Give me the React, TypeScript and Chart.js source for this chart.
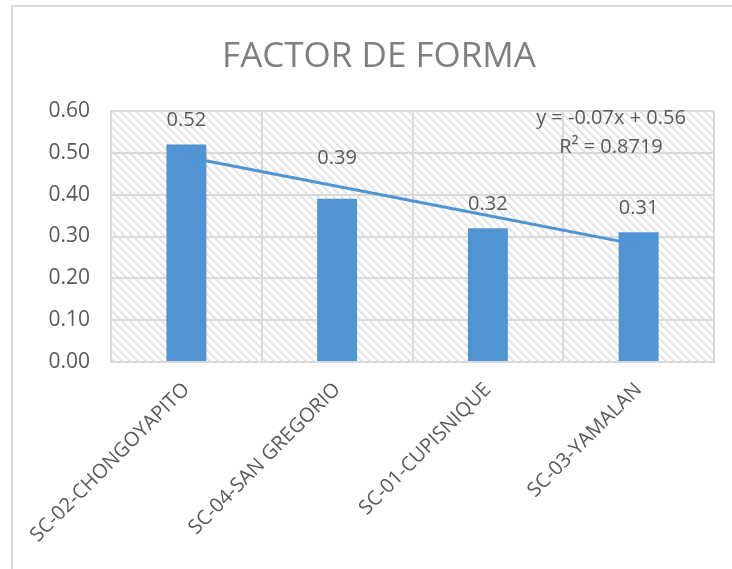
import React, { useEffect, useRef } from "react";
import { Chart, registerables } from "chart.js";

Chart.register(...registerables);

const chartTitle = "FACTOR DE FORMA";
const categories = ["SC-02-CHONGOYAPITO", "SC-04-SAN GREGORIO", "SC-01-CUPISNIQUE", "SC-03-YAMALAN"];
const factorValues = [0.52, 0.39, 0.32, 0.31];
const valueLabels = ["0.52", "0.39", "0.32", "0.31"];
const trendSlope = -0.07;
const trendIntercept = 0.56;
const trendEquation = "y = -0.07x + 0.56";
const trendR2 = "R² = 0.8719";
const yMin = 0;
const yMax = 0.6;
const yStep = 0.1;

const BLUE = "#5094D3";
const TEXT = "#595959";
const GRID = "#D9D9D9";
const FONT = "'Open Sans', sans-serif";

function makePattern(ctx: CanvasRenderingContext2D) {
  const c = document.createElement("canvas");
  c.width = 8;
  c.height = 8;
  const p = c.getContext("2d")!;
  p.fillStyle = "#ffffff";
  p.fillRect(0, 0, 8, 8);
  p.fillStyle = "#E2E2E2";
  for (let y = 0; y < 8; y++) {
    for (let k = 0; k < 2; k++) {
      p.fillRect((y + k) % 8, y, 1, 1);
    }
    p.fillStyle = "#EDEDED";
    p.fillRect((y + 2) % 8, y, 1, 1);
    p.fillStyle = "#E2E2E2";
  }
  return ctx.createPattern(c, "repeat");
}

const backgroundPlugin = {
  id: "hatchBg",
  beforeDraw(chart: any) {
    const { ctx, chartArea } = chart;
    const pat = makePattern(ctx);
    if (!pat) return;
    ctx.save();
    ctx.fillStyle = pat;
    ctx.fillRect(chartArea.left, chartArea.top, chartArea.right - chartArea.left, chartArea.bottom - chartArea.top);
    ctx.restore();
  },
};

const labelPlugin = {
  id: "texts",
  afterDatasetsDraw(chart: any) {
    const { ctx } = chart;
    const meta = chart.getDatasetMeta(0);
    const extra = [0, 17, 0, 0];
    ctx.save();
    ctx.fillStyle = TEXT;
    ctx.font = `20px ${FONT}`;
    ctx.textAlign = "center";
    ctx.textBaseline = "alphabetic";
    meta.data.forEach((bar: any, i: number) => {
      ctx.fillText(valueLabels[i], bar.x, bar.y - 18 - extra[i]);
    });
    // trendline equation
    ctx.fillText(trendEquation, 611, 124);
    ctx.fillText(trendR2, 611, 153);
    // title
    ctx.fillStyle = "#7F7F7F";
    ctx.font = `35px ${FONT}`;
    ctx.fillText(chartTitle, 379, 67);
    ctx.restore();
  },
};

export default function App() {
  const ref = useRef<HTMLCanvasElement>(null);
  useEffect(() => {
    if (!ref.current) return;
    const trendData = categories.map((_, i) => trendIntercept + trendSlope * (i + 1));
    const chart = new Chart(ref.current, {
      type: "bar",
      data: {
        labels: categories,
        datasets: [
          {
            type: "bar",
            data: factorValues,
            backgroundColor: BLUE,
            borderWidth: 0,
            categoryPercentage: 1,
            barPercentage: 0.265,
            order: 2,
          },
          {
            type: "line",
            data: trendData,
            borderColor: BLUE,
            borderWidth: 3,
            pointRadius: 0,
            fill: false,
            order: 1,
          } as any,
        ],
      },
      options: {
        responsive: false,
        animation: false,
        devicePixelRatio: 1,
        layout: { padding: { left: 0, top: 111, right: 18, bottom: 0 } },
        plugins: {
          legend: { display: false },
          title: { display: false },
          tooltip: { enabled: false },
        },
        scales: {
          x: {
            offset: true,
            grid: { color: GRID, lineWidth: 2, drawTicks: false, offset: true },
            border: { color: GRID, width: 2 },
            ticks: {
              color: TEXT,
              font: { family: FONT, size: 20 },
              minRotation: 45,
              maxRotation: 45,
              padding: 16,
              autoSkip: false,
            },
            afterFit(scale: any) {
              scale.height = 207;
            },
          },
          y: {
            min: yMin,
            max: yMax,
            grid: { color: GRID, lineWidth: 2, drawTicks: false },
            border: { color: GRID, width: 2 },
            ticks: {
              stepSize: yStep,
              color: TEXT,
              font: { family: FONT, size: 21 },
              padding: 21,
              callback: (v: any) => Number(v).toFixed(2),
            },
            afterFit(scale: any) {
              scale.width = 111;
            },
          },
        },
      },
      plugins: [backgroundPlugin, labelPlugin],
    });
    return () => chart.destroy();
  }, []);

  return (
    <div style={{ position: "fixed", left: 0, top: 0, width: 732, height: 569, background: "#fff", overflow: "hidden" }}>
      <div
        style={{
          position: "absolute",
          left: 11,
          top: 5,
          width: 800,
          height: 700,
          borderLeft: "2px solid #D9D9D9",
          borderTop: "2px solid #D9D9D9",
        }}
      />
      <canvas ref={ref} width={732} height={569} style={{ position: "absolute", left: 0, top: 0, display: "block" }} />
    </div>
  );
}
